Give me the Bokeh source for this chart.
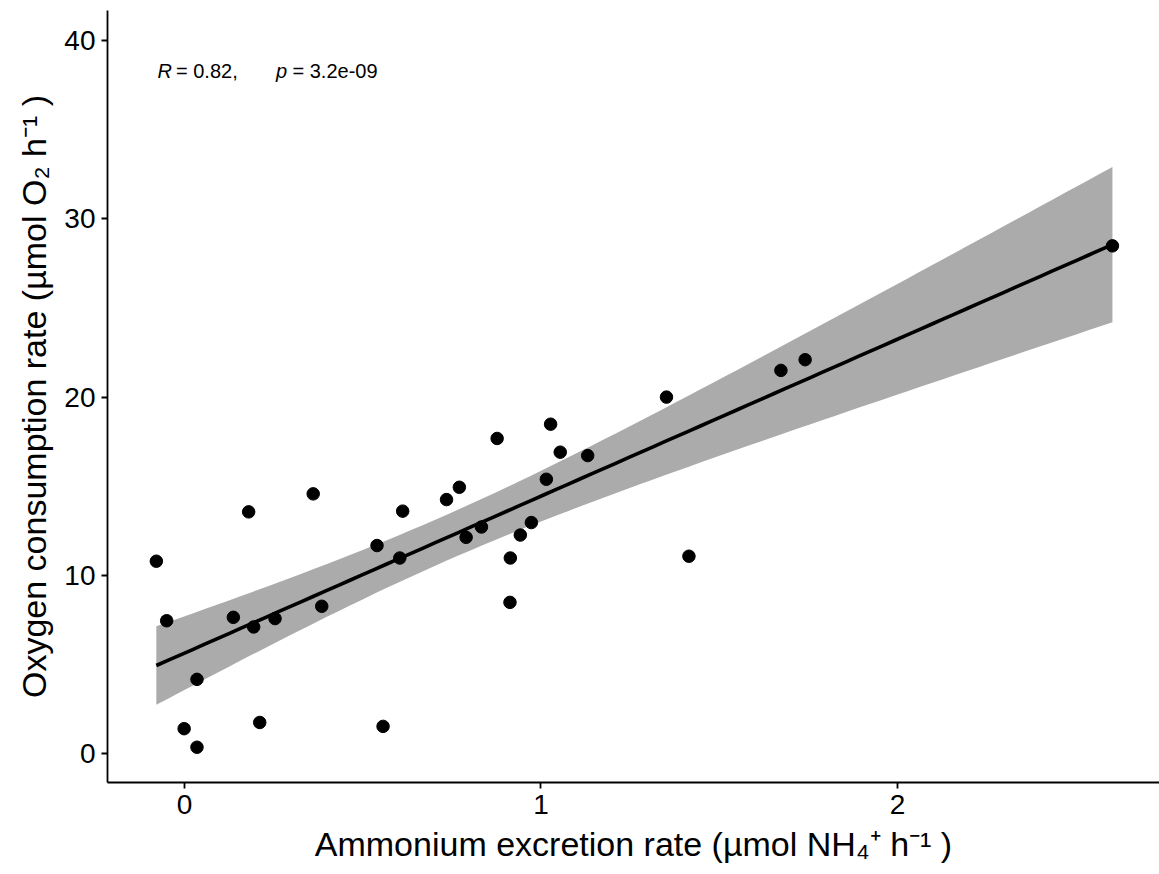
import numpy as np
from bokeh.plotting import figure
from bokeh.models import Range1d, FixedTicker, Label, ColumnDataSource
from bokeh.embed import file_html
from bokeh.resources import INLINE

# Data
ammonium = [-0.079, -0.050, 0.035, -0.001, 0.035, 0.137, 0.180, 0.194, 0.211, 0.254,
            0.361, 0.385, 0.540, 0.557, 0.604, 0.612, 0.735, 0.771, 0.790, 0.833,
            0.877, 0.914, 0.913, 0.942, 0.973, 1.015, 1.027, 1.054, 1.131, 1.352,
            1.415, 1.673, 1.741, 2.603]
oxygen = [10.79, 7.45, 4.16, 1.39, 0.35, 7.64, 13.56, 7.10, 1.74, 7.57,
          14.57, 8.26, 11.67, 1.52, 10.97, 13.60, 14.25, 14.94, 12.13, 12.71,
          17.68, 10.97, 8.48, 12.26, 12.96, 15.39, 18.48, 16.91, 16.72, 20.00,
          11.07, 21.50, 22.10, 28.49]
x_ticks = [0, 1, 2]
y_ticks = [0, 10, 20, 30, 40]
stat_parts = ["R", "= 0.82,", "p", "= 3.2e-09"]

x = np.array(ammonium)
y = np.array(oxygen)
n = len(x)
slope, intercept = np.polyfit(x, y, 1)
xs = np.linspace(x.min(), x.max(), 80)
ys = intercept + slope * xs
resid = y - (intercept + slope * x)
s = np.sqrt(np.sum(resid ** 2) / (n - 2))
sxx = np.sum((x - x.mean()) ** 2)
tval = 2.0369  # t(0.975, df=32)
se = s * np.sqrt(1.0 / n + (xs - x.mean()) ** 2 / sxx)
lo = ys - tval * se
hi = ys + tval * se

FONT = "Liberation Sans"

p = figure(width=1159, height=874, output_backend="svg", toolbar_location=None,
           x_range=Range1d(-0.216, 2.735), y_range=Range1d(-1.63, 41.7))
p.min_border_left = 107
p.min_border_bottom = 92
p.min_border_top = 10
p.min_border_right = 0
p.outline_line_color = None
p.background_fill_color = "white"
p.border_fill_color = "white"
p.xgrid.visible = False
p.ygrid.visible = False

band_src = ColumnDataSource(dict(x=xs, lo=lo, hi=hi))
p.varea(x="x", y1="lo", y2="hi", source=band_src, fill_color="#ababab", fill_alpha=1.0)
p.line(xs, ys, line_color="black", line_width=3.6)
p.scatter(ammonium, oxygen, size=12.5, color="black")

for ax in (p.xaxis[0], p.yaxis[0]):
    ax.axis_line_color = "black"
    ax.axis_line_width = 1.8
    ax.major_tick_line_color = "black"
    ax.major_tick_line_width = 1.8
    ax.major_tick_out = 6
    ax.major_tick_in = 0
    ax.minor_tick_line_color = None
    ax.major_label_text_font = FONT
    ax.major_label_text_font_size = "28px"
    ax.major_label_text_color = "black"
    ax.axis_label_text_font = FONT
    ax.axis_label_text_font_size = "34px"
    ax.axis_label_text_font_style = "normal"
    ax.axis_label_text_color = "black"
    ax.major_label_standoff = 6

p.xaxis[0].ticker = FixedTicker(ticks=x_ticks)
p.yaxis[0].ticker = FixedTicker(ticks=y_ticks)
p.xaxis[0].axis_label = "Ammonium excretion rate (µmol NH₄⁺ h⁻¹ )"
p.yaxis[0].axis_label = "Oxygen consumption rate (µmol O₂ h⁻¹ )"
p.xaxis[0].axis_label_standoff = 8
p.yaxis[0].axis_label_standoff = 8

offsets = [0, 18.5, 118.5, 135]
styles = ["italic", "normal", "italic", "normal"]
for txt, off, st in zip(stat_parts, offsets, styles):
    p.add_layout(Label(x=-0.0757, y=38.28, x_offset=off, text=txt,
                       text_font=FONT, text_font_size="20px", text_font_style=st,
                       text_color="black", text_baseline="alphabetic", text_align="left"))

open("out.html", "w").write(file_html(p, INLINE))
